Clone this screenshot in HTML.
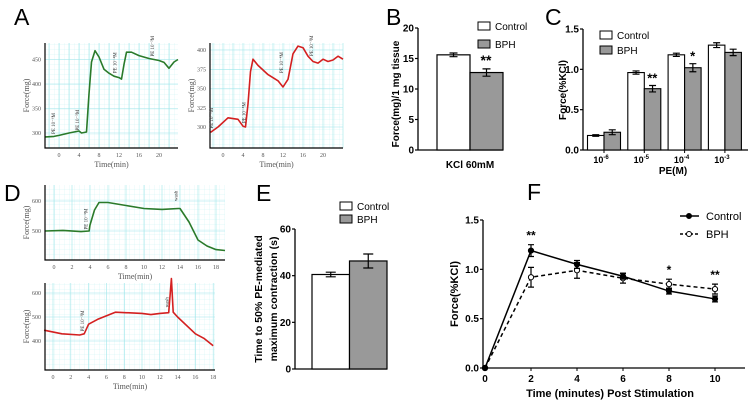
<!DOCTYPE html>
<html><head><meta charset="utf-8"><style>
body{margin:0;background:#fff;}
svg{display:block;font-family:"Liberation Sans",Arial,sans-serif;}
.tr{font-family:"Liberation Serif",serif;font-size:6px;fill:#555;}
</style></head><body>
<svg id="s" width="753" height="405" viewBox="0 0 753 405" xmlns="http://www.w3.org/2000/svg">
<defs>
<pattern id="g" width="5" height="5" patternUnits="userSpaceOnUse"><path d="M5 0V5M0 5H5" stroke="#c8f2f4" stroke-width="0.5" fill="none"/></pattern>
</defs>
<g id="root"></g>
</svg>
<script>
// ---- Panel A traces ----
const aLeftT=[-2.7,-1,0,2,4,4.5,5.5,6,6.5,7.2,8,9,10,11,12,12.5,13,13.5,14.5,16,18,20,21,22,23,23.8];
const aLeftV=[292,293,295,300,304,300,302,380,445,468,455,430,422,416,413,410,440,465,465,458,452,448,444,432,445,450];
const aRightT=[-2.5,-1,1,3,4,4.5,5,5.5,6,7,9,11,12,13,14,15,16,17,18,19,20,21,22,23,24];
const aRightV=[293,300,312,310,301,300,330,372,388,380,368,360,352,362,395,405,403,392,385,383,388,385,387,392,388];
// ---- Panel D traces ----
const dTopT=[-1,1,3,3.9,4,4.5,5,6,8,10,12,13.8,14,15,16,17,18,19];
const dTopV=[500,502,498,500,520,570,595,595,585,575,572,575,575,530,470,450,438,435];
const dBotT=[-1,1,3,3.5,4,5,7,10,11,12,13,13.3,13.5,14,16,17,18];
const dBotV=[445,430,425,430,470,490,520,515,510,515,518,660,520,500,430,410,380];
// ---- Panel B ----
const bCats=["Control","BPH"];
const bVals=[15.6,12.7];
const bErr=[0.3,0.6];
const bTicks=[0,5,10,15,20];
// ---- Panel C ----
const cCats=["-6","-5","-4","-3"];
const cCtrl=[0.18,0.96,1.18,1.30];
const cCtrlErr=[0.01,0.02,0.02,0.03];
const cBph=[0.22,0.76,1.02,1.21];
const cBphErr=[0.03,0.04,0.05,0.04];
const cStars=["","**","*",""];
const cTicks=["0.0","0.5","1.0","1.5"];
// ---- Panel E ----
const eVals=[40.5,46.3];
const eErr=[1,3];
const eTicks=[0,20,40,60];
// ---- Panel F ----
const fX=[0,2,4,6,8,10];
const fCtrl=[0,1.19,1.05,0.93,0.78,0.70];
const fCtrlErr=[0,0.06,0.04,0.03,0.03,0.03];
const fBph=[0,0.92,0.99,0.91,0.85,0.80];
const fBphErr=[0,0.10,0.08,0.05,0.05,0.05];
const fStars=["","**","","","*","**"];
const fTicks=["0.0","0.5","1.0","1.5"];

const NS="http://www.w3.org/2000/svg";
const root=document.getElementById('root');
function el(tag,attrs,parent,txt){const e=document.createElementNS(NS,tag);for(const k in attrs)e.setAttribute(k,attrs[k]);if(txt!==undefined)e.textContent=txt;(parent||root).appendChild(e);return e;}

// letters
[["A",14,25],["B",386,25],["C",545,25],["D",4,201],["E",256,201],["F",527,200]].forEach(l=>{
 const t=el('text',{x:l[1],y:l[2],'font-size':23},root,l[0]);
 
 
});

function trace(name,ax,ay,w,h,t0,pxPerT,v0,y0,pxPerV,ts,vs,color,xt,ytk,mark){
 const g=el('g',{});
 
 
 el('rect',{x:ax,y:ay,width:w,height:h,fill:'url(#g)'},g);
 const tx=t=>t0+(t)*pxPerT, vy=v=>y0-(v-v0)*pxPerV;
 for(let x=tx(-10);x<=ax+w;x+=pxPerT*2){if(x>ax)el('line',{x1:x,y1:ay,x2:x,y2:ay+h,stroke:'#9ee6ea','stroke-width':0.6},g);}
 ytk.forEach(v=>{const y=vy(v);el('line',{x1:ax,y1:y,x2:ax+w,y2:y,stroke:'#9ee6ea','stroke-width':0.6},g);el('text',{x:ax-4,y:y+2,'text-anchor':'end',class:'tr'},g,v);});
 let d=ts.map((t,i)=>(i?'L':'M')+tx(t).toFixed(1)+' '+vy(vs[i]).toFixed(1)).join('');
 const p=el('path',{d:d,stroke:color,'stroke-width':1.6,fill:'none','stroke-linejoin':'round'},g);
 
 
 el('path',{d:`M${ax} ${ay}V${ay+h}H${ax+w}`,stroke:'#000','stroke-width':1.2,fill:'none'},g);
 xt.forEach(t=>el('text',{x:tx(t),y:ay+h+9,'text-anchor':'middle',class:'tr'},g,t));
 el('text',{x:ax+w/2,y:ay+h+19,'text-anchor':'middle',class:'tr',style:'font-size:8px'},g,'Time(min)');
 el('text',{x:0,y:0,transform:`translate(${ax-16},${ay+h/2}) rotate(-90)`,'text-anchor':'middle',class:'tr',style:'font-size:8px'},g,'Force(mg)');
 mark.forEach(m=>el('text',{x:0,y:0,transform:`translate(${tx(m[0])},${vy(m[1])}) rotate(-90)`,class:'tr',style:'font-size:5px;fill:#333'},g,m[2]));
}
trace('trace-a-control',45,43,133,105,59,5,300,133,0.49,aLeftT,aLeftV,'#2a7a2a',[0,4,8,12,16,20],[300,350,400,450],[[-0.8,298,'PE 10⁻⁶M'],[4,305,'PE 10⁻⁵M'],[11.5,422,'PE 10⁻⁴M'],[19,456,'PE 10⁻³M']]);
trace('trace-a-bph',210,43,133,105,223,5,300,127,0.77,aRightT,aRightV,'#d42020',[0,4,8,12,16,20],[300,325,350,375,400],[[-2,298,'PE 10⁻⁶M'],[4.5,305,'PE 10⁻⁵M'],[12,370,'PE 10⁻⁴M'],[18,392,'PE 10⁻³M']]);
trace('trace-d-control',45,185,180,75,54,9,500,231,0.3,dTopT,dTopV,'#2a7a2a',[0,2,4,6,8,10,12,14,16,18],[500,600],[[3.7,505,'PE 10⁻⁵M'],[13.7,600,'wash']]);
trace('trace-d-bph',45,283,170,87,53,8.9,400,341,0.24,dBotT,dBotV,'#d42020',[0,2,4,6,8,10,12,14,16,18],[400,500,600],[[3.5,440,'PE 10⁻⁵M'],[13,540,'wash']]);

function legend(x,y,gap,fs,pref){
 [['Control','#fff'],['BPH','#999']].forEach((l,i)=>{
  const r=el('rect',{x:x,y:y+i*gap-4,width:12,height:8,fill:l[1],stroke:'#000','stroke-width':1});
  
  
  el('text',{x:x+17,y:y+i*gap+4,'font-size':fs},root,l[0]);
 });
}
function yAxis(ax,yB,yT,ticks,max){
 el('line',{x1:ax,y1:yB,x2:ax,y2:yT,stroke:'#000','stroke-width':1.3});
 ticks.forEach(t=>{const y=yB-(parseFloat(t)/max)*(yB-yT);el('line',{x1:ax-3,y1:y,x2:ax,y2:y,stroke:'#000','stroke-width':1.2});el('text',{x:ax-4,y:y+3.5,'text-anchor':'end','font-size':10,'font-weight':'bold'},root,t);});
}
function errBar(x,y1,y2,w){el('path',{d:`M${x} ${y1}V${y2}M${x-w} ${y1}H${x+w}M${x-w} ${y2}H${x+w}`,stroke:'#000','stroke-width':1.2,fill:'none'});}

// ---- B ----
(function(){
 const yB=150,yT=28,max=20,sy=v=>yB-v/max*(yB-yT);
 yAxis(418,yB,yT,bTicks.map(String),max);
 el('line',{x1:418,y1:yB,x2:503,y2:yB,stroke:'#000','stroke-width':1.3});
 bVals.forEach((v,i)=>{const x=437+i*33;const r=el('rect',{x:x,y:sy(v),width:33,height:yB-sy(v),fill:i?'#999':'#fff',stroke:'#000','stroke-width':1.2});
  
  
  errBar(x+16.5,sy(v+bErr[i]),sy(v-bErr[i]),4);});
 el('text',{x:486,y:sy(bVals[1]+bErr[1])-4,'text-anchor':'middle','font-size':14,'font-weight':'bold'},root,'**');
 el('text',{x:470,y:168,'text-anchor':'middle','font-size':10,'font-weight':'bold'},root,'KCl 60mM');
 el('text',{x:0,y:0,transform:'translate(399,94) rotate(-90)','text-anchor':'middle','font-size':10,'font-weight':'bold'},root,'Force(mg)/1 mg tissue');
 legend(478,26,18,10,'b');
})();

// ---- C ----
(function(){
 const yB=150,yT=29,max=1.5,sy=v=>yB-v/max*(yB-yT);
 yAxis(583,yB,yT,cTicks,max);
 el('line',{x1:583,y1:yB,x2:748,y2:yB,stroke:'#000','stroke-width':1.3});
 cCats.forEach((c,i)=>{const cx=604+i*40.3;
  [[cCtrl,cCtrlErr,'#fff',-16.5,'control'],[cBph,cBphErr,'#999',0,'bph']].forEach(s=>{
   const v=s[0][i];const r=el('rect',{x:cx+s[3],y:sy(v),width:16.5,height:yB-sy(v),fill:s[2],stroke:'#000','stroke-width':1.1});
   
   
   errBar(cx+s[3]+8.25,sy(v+s[1][i]),sy(v-s[1][i]),3.5);});
  el('line',{x1:cx,y1:yB,x2:cx,y2:yB+3,stroke:'#000'});
  const t=el('text',{x:cx-3,y:yB+13,'text-anchor':'middle','font-size':9,'font-weight':'bold'},root,'10');
  el('tspan',{dy:-4,'font-size':6},t,c);
  if(cStars[i])el('text',{x:cx+8,y:sy(cBph[i]+cBphErr[i])-3,'text-anchor':'middle','font-size':13,'font-weight':'bold'},root,cStars[i]);
 });
 el('text',{x:673,y:174,'text-anchor':'middle','font-size':10,'font-weight':'bold'},root,'PE(M)');
 el('text',{x:0,y:0,transform:'translate(566,90) rotate(-90)','text-anchor':'middle','font-size':10,'font-weight':'bold'},root,'Force(%KCl)');
 legend(600,35,15,10,'c');
})();

// ---- E ----
(function(){
 const yB=369,yT=229,max=60,sy=v=>yB-v/max*(yB-yT);
 yAxis(295,yB,yT,eTicks.map(String),max);
 el('line',{x1:295,y1:yB,x2:387,y2:yB,stroke:'#000','stroke-width':1.3});
 eVals.forEach((v,i)=>{const x=312+i*37.5;const r=el('rect',{x:x,y:sy(v),width:37.5,height:yB-sy(v),fill:i?'#999':'#fff',stroke:'#000','stroke-width':1.2});
  
  
  errBar(x+18.75,sy(v+eErr[i]),sy(v-eErr[i]),5);});
 el('text',{x:0,y:0,transform:'translate(262,299) rotate(-90)','text-anchor':'middle','font-size':10.5,'font-weight':'bold'},root,'Time to 50% PE-mediated');
 el('text',{x:0,y:0,transform:'translate(277,299) rotate(-90)','text-anchor':'middle','font-size':10.5,'font-weight':'bold'},root,'maximum contraction (s)');
 legend(340,206,13,10,'e');
})();

// ---- F ----
(function(){
 const yB=368,yT=220,max=1.5,sy=v=>yB-v/max*(yB-yT),sx=x=>485+x*23;
 yAxis(483,yB,yT,fTicks,max);
 el('line',{x1:483,y1:yB,x2:745,y2:yB,stroke:'#000','stroke-width':1.3});
 fX.forEach(x=>{el('line',{x1:sx(x),y1:yB,x2:sx(x),y2:yB+3,stroke:'#000'});el('text',{x:sx(x),y:yB+14,'text-anchor':'middle','font-size':10,'font-weight':'bold'},root,x);});
 [[fBph,fBphErr,'4,3','#fff','bph'],[fCtrl,fCtrlErr,'','#000','control']].forEach(s=>{
  const d=fX.map((x,i)=>(i?'L':'M')+sx(x)+' '+sy(s[0][i])).join('');
  const p=el('path',{d:d,stroke:'#000','stroke-width':1.5,fill:'none','stroke-dasharray':s[2]});
  
  
  fX.forEach((x,i)=>{if(s[1][i])errBar(sx(x),sy(s[0][i]+s[1][i]),sy(s[0][i]-s[1][i]),3);
   const c=el('circle',{cx:sx(x),cy:sy(s[0][i]),r:2.6,fill:s[3],stroke:'#000','stroke-width':1});
   
   });
 });
 fX.forEach((x,i)=>{if(fStars[i])el('text',{x:sx(x),y:sy(Math.max(fCtrl[i]+fCtrlErr[i],fBph[i]+fBphErr[i]))-5,'text-anchor':'middle','font-size':12,'font-weight':'bold'},root,fStars[i]);});
 el('text',{x:610,y:397,'text-anchor':'middle','font-size':11,'font-weight':'bold'},root,'Time (minutes) Post Stimulation');
 el('text',{x:0,y:0,transform:'translate(458,294) rotate(-90)','text-anchor':'middle','font-size':11,'font-weight':'bold'},root,'Force(%KCl)');
 [['Control','','#000'],['BPH','3,2','#fff']].forEach((l,i)=>{const y=216+i*18;
  el('line',{x1:680,y1:y,x2:699,y2:y,stroke:'#000','stroke-width':1.5,'stroke-dasharray':l[1]});
  const c=el('circle',{cx:689,cy:y,r:2.5,fill:l[2],stroke:'#000'});
  
  
  el('text',{x:706,y:y+4,'font-size':11},root,l[0]);});
})();
</script>
</body></html>
